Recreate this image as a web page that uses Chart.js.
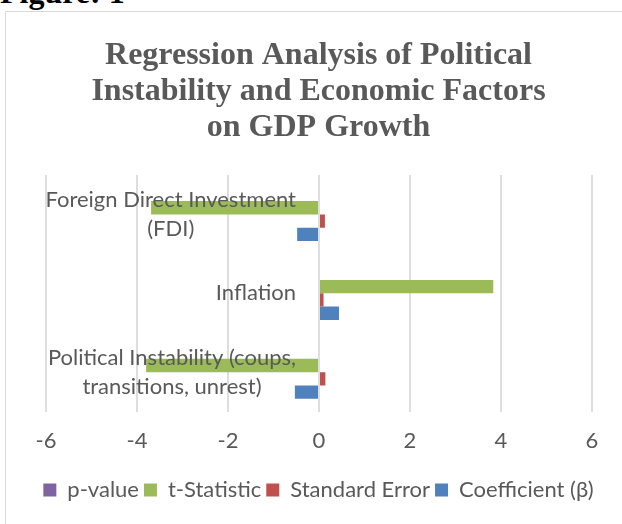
<!DOCTYPE html>
<html>
<head>
<meta charset="utf-8">
<script src="https://cdn.jsdelivr.net/npm/chart.js@4"></script>
<style>
  html, body { margin: 0; padding: 0; background: #fff; overflow: hidden; width: 622px; height: 524px; }
  #fig { position: absolute; left: 0; top: -24px; font: bold 32px "Liberation Serif", serif; line-height: 32px; color: #000; }
  #frame { position: absolute; left: 5px; top: 11px; width: 700px; height: 600px; border: 1px solid #d9d9d9; background: #fff; }
  #box { position: absolute; left: 0; top: 0; width: 617px; height: 513px; }
</style>
</head>
<body>
<div id="fig">Figure: 1</div>
<div id="frame"><div id="box"><canvas id="myChart"></canvas></div></div>
<script>
// categories, top to bottom
var categories = [
  ['Foreign Direct Investment', '(FDI)'],
  ['Inflation'],
  ['Political Instability (coups,', 'transitions, unrest)']
];
var pValue = [0.000, 0.000, 0.000];
var tStat = [-3.69, 3.83, -3.80];
var stdError = [0.13, 0.10, 0.14];
var coefficient = [-0.48, 0.44, -0.53];
var xTicks = [-6, -4, -2, 0, 2, 4, 6];

var labelFont = '22px Lato';
var textColor = '#595959';

// Excel draws the category names left of the zero line, each block centred
var categoryLabels = {
  id: 'categoryLabels',
  afterDatasetsDraw: function(chart) {
    var ctx = chart.ctx;
    var xs = chart.scales.x, ys = chart.scales.y;
    var right = xs.getPixelForValue(0) - 23;
    ctx.save();
    ctx.font = labelFont;
    ctx.fillStyle = textColor;
    ctx.textAlign = 'center';
    ctx.textBaseline = 'middle';
    categories.forEach(function(lines, i) {
      var w = 0;
      lines.forEach(function(l) { w = Math.max(w, ctx.measureText(l).width); });
      var cx = right - w / 2;
      var cy = ys.getPixelForValue(i);
      var lh = 29;
      var y0 = cy - (lines.length - 1) * lh / 2;
      lines.forEach(function(l, k) { ctx.fillText(l, cx, y0 + k * lh); });
    });
    ctx.restore();
  }
};

// empty side axes only reserve room, so the legend keeps the full width
var blankAxis = function(pos, w) {
  return {
    type: 'category',
    position: pos,
    grid: { display: false },
    border: { display: false },
    ticks: { display: false },
    afterFit: function(scale) { scale.width = w; }
  };
};

var yLeft = blankAxis('left', 22);
var yRight = blankAxis('right', 21);

const config = {
  type: 'bar',
  data: {
    labels: categories,
    datasets: [
      { label: 'p-value', data: pValue, backgroundColor: '#8064A2' },
      { label: 't-Statistic', data: tStat, backgroundColor: '#9BBB59' },
      { label: 'Standard Error', data: stdError, backgroundColor: '#C0504D' },
      { label: 'Coefficient (β)', data: coefficient, backgroundColor: '#4F81BD' }
    ]
  },
  options: {
    indexAxis: 'y',
    responsive: true,
    maintainAspectRatio: false,
    animation: false,
    categoryPercentage: 0.675,
    barPercentage: 1,
    layout: { padding: { left: 18, right: 10, top: 0, bottom: 14 } },
    plugins: {
      title: {
        display: true,
        text: ['Regression Analysis of Political', 'Instability and Economic Factors', 'on GDP Growth'],
        color: textColor,
        font: { family: 'Liberation Serif', size: 32, weight: 'bold', lineHeight: 1.125 },
        padding: { top: 26, bottom: 29 }
      },
      legend: {
        position: 'bottom',
        labels: {
          color: textColor,
          font: { family: 'Lato', size: 22 },
          boxWidth: 13,
          boxHeight: 13,
          padding: 5
        }
      },
      tooltip: { enabled: false }
    },
    scales: {
      x: {
        min: -6,
        max: 6,
        afterBuildTicks: function(scale) { scale.ticks = xTicks.map(function(v) { return { value: v }; }); },
        afterFit: function(scale) { scale.height += 4; },
        grid: { color: '#dedede', lineWidth: 2, drawTicks: false },
        border: { display: false },
        ticks: { color: textColor, font: { family: 'Lato', size: 22 }, padding: 16 }
      },
      y: yLeft,
      y2: yRight
    }
  },
  plugins: [categoryLabels]
};

var ctx = document.getElementById('myChart').getContext('2d');
var grafica = new Chart(ctx, config);
</script>
</body>
</html>
